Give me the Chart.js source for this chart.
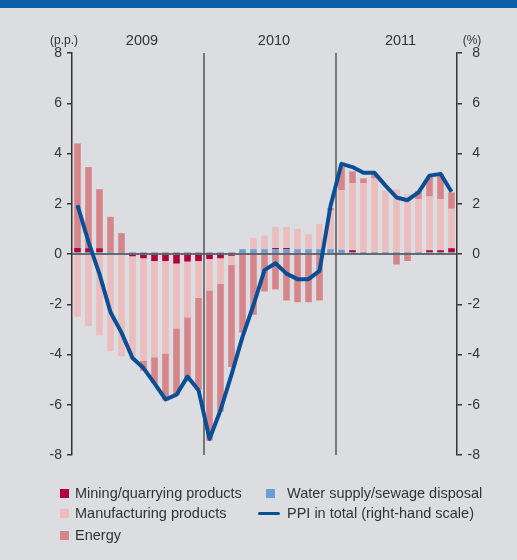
<!DOCTYPE html>
<html>
<head>
<meta charset="utf-8">
<script src="https://cdn.jsdelivr.net/npm/chart.js@4.4.1/dist/chart.umd.min.js"></script>
<style>
  body { margin: 0; background: #dcdde0; }
  #wrap { position: relative; width: 517px; height: 560px; background: #dcdde0; overflow: hidden; }
  #band { position: absolute; left: 0; top: 0; width: 517px; height: 8px; background: #0b5fa8; }
  #ppiChart { position: absolute; left: 0; top: 0; }
  .lg { position: absolute; font: 14.5px "Liberation Sans", Arial, sans-serif; color: #333; white-space: nowrap; }
  .sq { position: absolute; width: 9px; height: 9px; }
  .ln { position: absolute; width: 22px; height: 3px; border-radius: 2px; }
</style>
</head>
<body>
<div id="wrap">
  <canvas id="ppiChart" width="517" height="560"></canvas>
  <div id="band"></div>

  <div class="sq" style="left:60px;top:489px;background:#b3003b"></div>
  <div class="lg" style="left:75px;top:485px">Mining/quarrying products</div>
  <div class="sq" style="left:60px;top:509px;background:#ebbdbe"></div>
  <div class="lg" style="left:75px;top:505px">Manufacturing products</div>
  <div class="sq" style="left:60px;top:531px;background:#d6868b"></div>
  <div class="lg" style="left:75px;top:527px">Energy</div>

  <div class="sq" style="left:266px;top:489px;background:#6a9ed7"></div>
  <div class="lg" style="left:287px;top:485px">Water supply/sewage disposal</div>
  <div class="ln" style="left:258px;top:512px;background:#0a4f96"></div>
  <div class="lg" style="left:287px;top:505px">PPI in total (right-hand scale)</div>
</div>

<script>
// months Jan 2009 .. Nov 2011
const months = [
  '2009-01','2009-02','2009-03','2009-04','2009-05','2009-06','2009-07','2009-08','2009-09','2009-10','2009-11','2009-12',
  '2010-01','2010-02','2010-03','2010-04','2010-05','2010-06','2010-07','2010-08','2010-09','2010-10','2010-11','2010-12',
  '2011-01','2011-02','2011-03','2011-04','2011-05','2011-06','2011-07','2011-08','2011-09','2011-10','2011-11'
];
const years = ['2009', '2010', '2011'];

// contributions in p.p.
const water = [
  0.07, 0.07, 0.07, 0.07, 0.07, 0.07, 0.07, 0.07, 0.07, 0.07, 0.07, 0.07,
  0.07, 0.07, 0.07, 0.19, 0.19, 0.19, 0.19, 0.19, 0.19, 0.19, 0.19, 0.19,
  0.17, 0.07, 0.07, 0.07, 0.07, 0.07, 0.07, 0.07, 0.07, 0.07, 0.07
];
const mining = [
  0.17, 0.16, 0.16, 0, 0, -0.09, -0.17, -0.28, -0.28, -0.38, -0.3, -0.28,
  -0.2, -0.17, -0.07, 0, 0, 0, 0.05, 0.05, 0, 0, 0, 0,
  0, 0.08, 0, 0, 0, 0, 0, 0, 0.08, 0.08, 0.16
];
const manufacturing = [
  -2.5, -2.86, -3.24, -3.87, -4.07, -4.11, -4.08, -3.83, -3.68, -2.58, -2.22, -1.47,
  -1.25, -1.01, -0.37, 0, 0.44, 0.54, 0.84, 0.84, 0.81, 0.6, 1.01, 1.54,
  2.37, 2.67, 2.75, 2.94, 2.45, 2.51, 2.31, 2.11, 2.14, 2.03, 1.57
];
const energy = [
  4.16, 3.23, 2.35, 1.41, 0.76, 0, -0.4, -1.04, -1.86, -2.66, -2.55, -3.65,
  -5.98, -5.1, -4.06, -3.13, -2.42, -1.49, -1.41, -1.85, -1.92, -1.92, -1.85, 0.1,
  0.92, 0.47, 0.19, 0.14, 0, -0.42, -0.28, 0.34, 0.8, 1.01, 0.65
];
// PPI in total, % (right-hand scale)
const ppi = [
  1.94, 0.48, -0.8, -2.32, -3.13, -4.14, -4.54, -5.15, -5.79, -5.6, -4.88, -5.42,
  -7.36, -6.22, -4.8, -3.3, -2.03, -0.64, -0.37, -0.78, -1.0, -1.0, -0.67, 1.91,
  3.59, 3.46, 3.23, 3.23, 2.72, 2.25, 2.14, 2.45, 3.12, 3.19, 2.48
];

const FONT = '"Liberation Sans", Arial, sans-serif';

// year dividers, zero line, year labels and units
const decorations = {
  id: 'decorations',
  beforeDatasetDraw(chart, args) {
    if (args.index !== 4) return;
    const ctx = chart.ctx, x = chart.scales.x, y = chart.scales.y, a = chart.chartArea;
    ctx.save();
    ctx.strokeStyle = '#555';
    ctx.lineWidth = 1.5;
    [12, 24].forEach(i => {
      const px = (x.getPixelForValue(i - 1) + x.getPixelForValue(i)) / 2;
      ctx.beginPath();
      ctx.moveTo(px, a.top);
      ctx.lineTo(px, a.bottom);
      ctx.stroke();
    });
    ctx.strokeStyle = '#444';
    const zy = y.getPixelForValue(0);
    ctx.beginPath();
    ctx.moveTo(a.left, zy);
    ctx.lineTo(a.right, zy);
    ctx.stroke();
    ctx.restore();
  },
  afterDraw(chart) {
    const ctx = chart.ctx, x = chart.scales.x;
    ctx.save();
    ctx.fillStyle = '#333';
    ctx.textAlign = 'center';
    ctx.textBaseline = 'middle';
    ctx.font = '14.5px ' + FONT;
    years.forEach(yr => {
      const first = months.indexOf(yr + '-01');
      const last = months.map(m => m.slice(0, 4)).lastIndexOf(yr);
      const cx = (x.getPixelForValue(first) + x.getPixelForValue(last)) / 2 + 4;
      ctx.fillText(yr, cx, 41);
    });
    ctx.font = '12px ' + FONT;
    ctx.fillText('(p.p.)', 64, 41);
    ctx.fillText('(%)', 472, 41);
    ctx.restore();
  }
};

const barCommon = { stack: 's', categoryPercentage: 1, barPercentage: 0.6, yAxisID: 'y', order: 1 };

const config = {
  type: 'bar',
  data: {
    labels: months,
    datasets: [
      Object.assign({ label: 'Water supply/sewage disposal', data: water, backgroundColor: '#6a9ed7' }, barCommon),
      Object.assign({ label: 'Mining/quarrying products', data: mining, backgroundColor: '#b3003b' }, barCommon),
      Object.assign({ label: 'Manufacturing products', data: manufacturing, backgroundColor: '#ebbdbe' }, barCommon),
      Object.assign({ label: 'Energy', data: energy, backgroundColor: '#d6868b' }, barCommon),
      {
        type: 'line',
        label: 'PPI in total (right-hand scale)',
        data: ppi,
        yAxisID: 'y2',
        borderColor: '#0a4f96',
        borderWidth: 4,
        pointRadius: 0,
        tension: 0,
        borderJoinStyle: 'round',
        order: 0
      }
    ]
  },
  options: {
    responsive: false,
    animation: false,
    layout: { padding: { left: 0, right: 37, top: 53, bottom: 105 } },
    plugins: {
      legend: { display: false },
      tooltip: { enabled: false }
    },
    scales: {
      x: { display: false, stacked: true },
      y: {
        position: 'left',
        stacked: true,
        min: -8, max: 8,
        ticks: { stepSize: 2, color: '#333', padding: 5, font: { size: 14, family: FONT } },
        grid: { drawOnChartArea: false, tickLength: 5, tickColor: '#333', lineWidth: 1.5 },
        border: { display: true, color: '#333', width: 1.5 },
        afterFit(s) { s.width = 72; }
      },
      y2: {
        position: 'right',
        min: -8, max: 8,
        ticks: { stepSize: 2, color: '#333', padding: 5, crossAlign: 'far', font: { size: 14, family: FONT } },
        grid: { drawOnChartArea: false, tickLength: 5, tickColor: '#333', lineWidth: 1.5 },
        border: { display: true, color: '#333', width: 1.5 },
        afterFit(s) { s.width = 23; }
      }
    }
  },
  plugins: [decorations]
};

window.onload = function() {
  const ctx = document.getElementById('ppiChart').getContext('2d');
  new Chart(ctx, config);
};
</script>
</body>
</html>
